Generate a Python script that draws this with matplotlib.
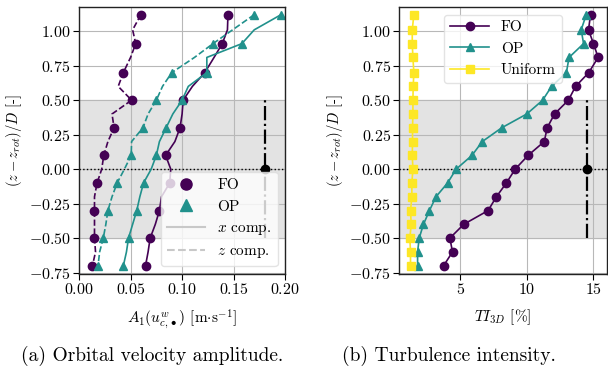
import matplotlib
matplotlib.use('Agg')
import matplotlib.pyplot as plt
from matplotlib.lines import Line2D
import numpy as np

plt.rcParams['font.family'] = 'serif'
plt.rcParams['font.serif'] = ['cmr10']
plt.rcParams['mathtext.fontset'] = 'cm'
plt.rcParams['axes.formatter.use_mathtext'] = True
plt.rcParams['axes.unicode_minus'] = True
plt.rcParams['font.size'] = 10

# measurement heights (z - z_rot)/D
z = [1.12, 1.01, 0.91, 0.81, 0.70, 0.60, 0.50, 0.40, 0.30, 0.20,
     0.10, 0.00, -0.10, -0.20, -0.30, -0.40, -0.50, -0.60, -0.70]

# (a) orbital velocity amplitude
fo_x = [0.1445, 0.144, 0.139, 0.131, 0.122, 0.110, 0.101, 0.100, 0.098, 0.093,
        0.084, 0.089, 0.088, 0.080, 0.078, 0.074, 0.069, 0.067, 0.0645]
fo_z = [0.060, 0.052, 0.055, 0.050, 0.043, 0.038, 0.051, 0.032, 0.034, 0.028,
        0.024, 0.022, 0.0175, 0.015, 0.015, 0.015, 0.015, 0.016, 0.013]
op_x = [0.196, 0.170, 0.158, 0.124, 0.124, 0.106, 0.100, 0.091, 0.0845, 0.078,
        0.075, 0.070, 0.0626, 0.059, 0.056, 0.052, 0.048, 0.046, 0.043]
op_z = [0.170, 0.149, 0.130, 0.112, 0.090, 0.081, 0.075, 0.067, 0.062, 0.051,
        0.0506, 0.044, 0.037, 0.032, 0.028, 0.026, 0.0235, 0.020, 0.0184]

# (b) turbulence intensity [%]
ti_fo = [14.78, 14.63, 15.0, 15.35, 14.65, 13.66, 13.12, 12.08, 11.53, 11.31,
         10.10, 9.13, 8.47, 7.72, 7.10, 5.27, 4.23, 4.43, 3.76]
ti_op = [14.46, 14.08, 14.26, 13.17, 12.97, 11.86, 11.19, 10.0, 8.12, 6.66,
         5.89, 4.70, 4.06, 3.19, 2.70, 2.25, 1.93, 1.81, 1.81]
ti_uni = [1.53, 1.41, 1.41, 1.46, 1.53, 1.48, 1.46, 1.46, 1.43, 1.43,
          1.41, 1.46, 1.38, 1.38, 1.28, 1.33, 1.23, 1.28, 1.28]

# reference (inflow) values at hub height
ref_a = 0.18
ref_ti = 14.5

c_fo = '#440154'
c_op = '#21918c'
c_uni = '#fde725'

fig = plt.figure(figsize=(6.08, 3.73), dpi=100)
ax1 = fig.add_axes([0.130, 0.2654, 0.339, 0.716])
ax2 = fig.add_axes([0.657, 0.2654, 0.341, 0.716])

for ax in (ax1, ax2):
    ax.axhspan(-0.5, 0.5, color='#e3e3e3', zorder=0)
    ax.axhline(0, color='k', ls=':', lw=1.0, zorder=1)
    ax.grid(True, color='#b8b8b8', lw=0.8, zorder=0.5)
    ax.set_axisbelow(True)
    ax.set_ylim(-0.76, 1.176)
    ax.set_yticks([-0.75, -0.5, -0.25, 0, 0.25, 0.5, 0.75, 1.0])
    ax.yaxis.set_major_formatter(matplotlib.ticker.FormatStrFormatter('$%.2f$'))
    ax.set_ylabel(r'$(z - z_{rot})/D$ [-]', fontsize=10.5, labelpad=3)
    ax.tick_params(direction='out', length=4, width=0.8, labelsize=11.5, pad=2)
    for s in ax.spines.values():
        s.set_color('#222222')
        s.set_linewidth(1.0)

# (a)
ax1.plot(fo_x, z, '-', color=c_fo, lw=1.2, marker='o', ms=6, markevery=2)
ax1.plot(fo_z, z, '--', color=c_fo, lw=1.2, marker='o', ms=6, markevery=2)
ax1.plot(op_x, z, '-', color=c_op, lw=1.2, marker='^', ms=6, markevery=2)
ax1.plot(op_z, z, '--', color=c_op, lw=1.2, marker='^', ms=6, markevery=2)
ax1.plot([ref_a, ref_a], [-0.5, 0.5], color='k', ls='-.', lw=1.6)
ax1.plot(ref_a, 0, 'o', color='k', ms=6)
ax1.set_xlim(0, 0.2)
ax1.set_xticks([0, 0.05, 0.1, 0.15, 0.2])
ax1.xaxis.set_major_formatter(matplotlib.ticker.FormatStrFormatter('$%.2f$'))
ax1.set_xlabel(r'$A_1(u^w_{c,\bullet})$ [m$\cdot$s$^{-1}$]', fontsize=11, labelpad=7)
handles = [Line2D([], [], ls='', marker='o', color=c_fo, ms=8),
           Line2D([], [], ls='', marker='^', color=c_op, ms=8),
           Line2D([], [], ls='-', color='#c8c8c8', lw=1.5),
           Line2D([], [], ls='--', color='#c8c8c8', lw=1.5)]
ax1.legend(handles, ['FO', 'OP', r'$x$ comp.', r'$z$ comp.'], loc='lower right',
           fontsize=11, framealpha=0.8, edgecolor='#dddddd', handlelength=2.5)

# (b)
ax2.plot(ti_fo, z, '-', color=c_fo, lw=1.2, marker='o', ms=6, label='FO')
ax2.plot(ti_op, z, '-', color=c_op, lw=1.2, marker='^', ms=6, label='OP')
ax2.plot(ti_uni, z, '-', color=c_uni, lw=1.2, marker='s', ms=6, label='Uniform')
ax2.plot([ref_ti, ref_ti], [-0.5, 0.5], color='k', ls='-.', lw=1.6)
ax2.plot(ref_ti, 0, 'o', color='k', ms=6)
ax2.set_xlim(0.45, 16.0)
ax2.set_xticks([5, 10, 15])
ax2.xaxis.set_major_formatter(matplotlib.ticker.FormatStrFormatter('$%d$'))
ax2.set_xlabel(r'$TI_{3D}$ [%]', fontsize=11, labelpad=7)
ax2.legend(loc='upper center', fontsize=11, framealpha=0.8, edgecolor='#dddddd',
           handlelength=2.5)

fig.text(0.25, 0.046, '(a) Orbital velocity amplitude.', ha='center', va='center', fontsize=14)
fig.text(0.738, 0.046, '(b) Turbulence intensity.', ha='center', va='center', fontsize=14)

fig.savefig('out.png', dpi=100)
